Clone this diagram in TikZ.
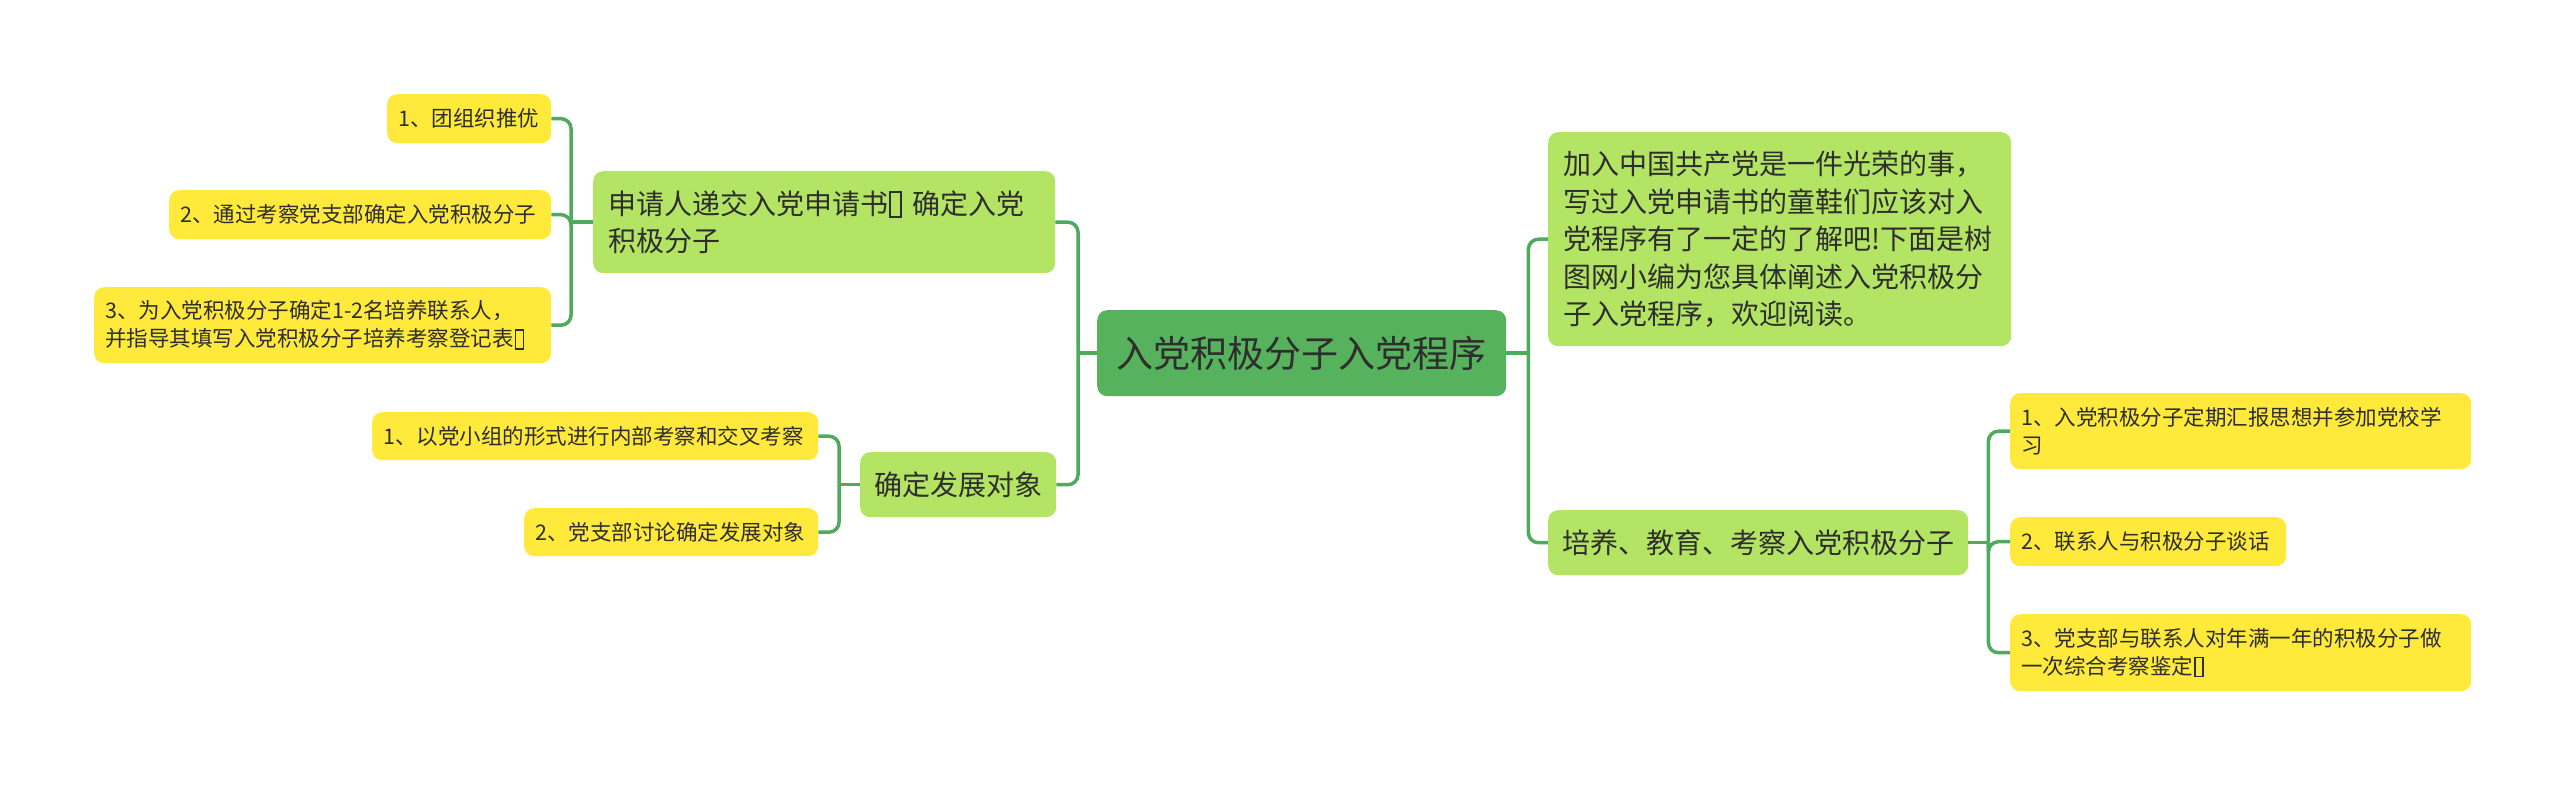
\documentclass[tikz,border=0pt]{standalone}
\usepackage{fontspec}
\setmainfont{Noto Sans CJK SC}
\definecolor{rootg}{HTML}{57B25D}
\definecolor{lvg}{HTML}{B3E463}
\definecolor{leafy}{HTML}{FFE93B}
\definecolor{linec}{HTML}{4FAA5C}
\definecolor{txt}{HTML}{2E2E2E}
\newcommand\tofubox{\kern0.04em\raisebox{-0.08em}{\fboxsep=0pt\fboxrule=0.07em\fbox{\rule{0pt}{0.82em}\hspace{0.3em}}}\kern0.04em}
\begin{document}
\begin{tikzpicture}[x=1pt,y=-1pt,
  base/.style={anchor=north west, rounded corners=10pt, inner ysep=0pt, align=left, text=txt},
  rootbox/.style={base, fill=rootg, inner xsep=18pt, align=center, font=\fontsize{37}{44}\selectfont},
  midbox/.style={base, fill=lvg, inner xsep=15pt, font=\fontsize{28}{37.5}\selectfont},
  leafbox/.style={base, fill=leafy, inner xsep=11pt, font=\fontsize{21.5}{28}\selectfont},
  conn/.style={draw=linec, line width=3.5pt},
  elbow/.style={conn, rounded corners=10pt}
]
\useasboundingbox (0,0) rectangle (2560,785);
\fill[white] (0,0) rectangle (2560,785);

% root
\node[rootbox, text width=373pt, minimum height=86pt] (root) at (1097,310) {入党积极分子入党程序};

% right side
\node[midbox, text width=433pt, minimum height=214pt] (intro) at (1548,132)
  {加入中国共产党是一件光荣的事，\\写过入党申请书的童鞋们应该对入\\党程序有了一定的了解吧!下面是树\\图网小编为您具体阐述入党积极分\\子入党程序，欢迎阅读。};
\node[midbox, inner xsep=14pt, text width=392pt, minimum height=65pt] (peiyang) at (1548,510) {培养、教育、考察入党积极分子};

\node[leafbox, text width=439pt, minimum height=76pt] (r1) at (2010,393) {1、入党积极分子定期汇报思想并参加党校学\\习};
\node[leafbox, text width=254pt, minimum height=49pt] (r2) at (2010,517) {2、联系人与积极分子谈话};
\node[leafbox, text width=439pt, minimum height=77pt] (r3) at (2010,614) {3、党支部与联系人对年满一年的积极分子做\\一次综合考察鉴定\tofubox};

% left side
\node[midbox, text width=432pt, minimum height=102pt] (shenqing) at (593,171) {申请人递交入党申请书\tofubox\ 确定入党\\积极分子};
\node[midbox, inner xsep=14pt, text width=168pt, minimum height=65pt] (queding) at (860,452) {确定发展对象};

\node[leafbox, text width=142pt, minimum height=49pt] (l1) at (387,94) {1、团组织推优};
\node[leafbox, text width=360pt, minimum height=49pt] (l2) at (169,190) {2、通过考察党支部确定入党积极分子};
\node[leafbox, text width=435pt, minimum height=76pt] (l3) at (94,287) {3、为入党积极分子确定1-2名培养联系人，\\并指导其填写入党积极分子培养考察登记表\tofubox};

\node[leafbox, text width=424pt, minimum height=48pt] (q1) at (372,412) {1、以党小组的形式进行内部考察和交叉考察};
\node[leafbox, text width=272pt, minimum height=48pt] (q2) at (524,508) {2、党支部讨论确定发展对象};

% connectors
\draw[conn] (root.west) -- ++(-19,0) coordinate (jL);
\draw[elbow] (jL) |- (shenqing.east);
\draw[elbow] (jL) |- (queding.east);

\draw[conn] (root.east) -- ++(22,0) coordinate (jR);
\draw[elbow] (jR) |- (intro.west);
\draw[elbow] (jR) |- (peiyang.west);

\draw[conn] (shenqing.west) -- ++(-22,0) coordinate (jA);
\draw[elbow] (jA) |- (l1.east);
\draw[elbow] (jA) |- (l2.east);
\draw[elbow] (jA) |- (l3.east);

\draw[conn] (queding.west) -- ++(-21,0) coordinate (jB);
\draw[elbow] (jB) |- (q1.east);
\draw[elbow] (jB) |- (q2.east);

\draw[conn] (peiyang.east) -- ++(20,0) coordinate (jC);
\draw[elbow] (jC) |- (r1.west);
\draw[elbow] (jC) |- (r2.west);
\draw[elbow] (jC) |- (r3.west);
\end{tikzpicture}
\end{document}
